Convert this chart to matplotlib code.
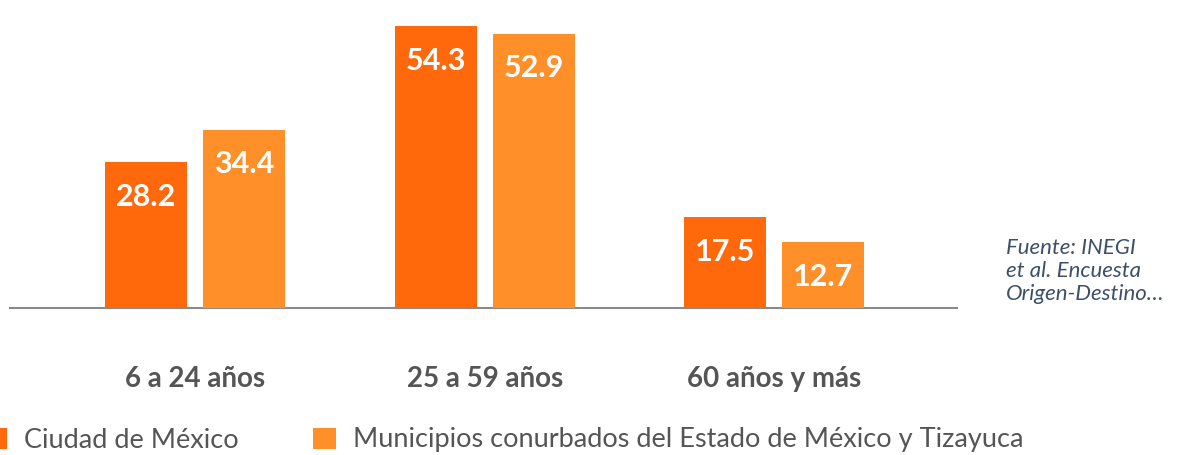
import matplotlib
matplotlib.use("Agg")
import matplotlib.pyplot as plt
import numpy as np

categories = ["6 a 24 años", "25 a 59 años", "60 años y más"]
series_names = ["Ciudad de México", "Municipios conurbados del Estado de México y Tizayuca"]
cdmx = [28.2, 54.3, 17.5]
municipios = [34.4, 52.9, 12.7]
source_note = "Fuente: INEGI\net al. Encuesta\nOrigen-Destino…"

C1 = "#FF690C"
C2 = "#FF8F28"
FONT = "Lato"

W, H = 1177, 455
fig = plt.figure(figsize=(W / 100, H / 100), dpi=100)
ax = fig.add_axes([10 / W, 1 - 308 / H, 947 / W, 308 / H])

x = np.arange(len(categories))
bw = 0.283
off = 0.169
b1 = ax.bar(x - off, cdmx, bw, color=C1, label=series_names[0], zorder=2)
b2 = ax.bar(x + off, municipios, bw, color=C2, label=series_names[1], zorder=2)

for bars, vals in ((b1, cdmx), (b2, municipios)):
    for r, v in zip(bars, vals):
        ax.annotate(f"{v:.1f}", (r.get_x() + r.get_width() / 2, r.get_height()),
                    xytext=(0, -25), textcoords="offset points",
                    ha="center", va="center", color="white",
                    fontsize=22, fontweight="bold", family=FONT)

ax.set_xlim(-0.638, 2.630)
ax.set_ylim(0, 59.4)
for s in ("top", "right", "left"):
    ax.spines[s].set_visible(False)
ax.spines["bottom"].set_color("#8a8a8a")
ax.spines["bottom"].set_linewidth(1.5)
ax.spines["bottom"].set_zorder(1)
ax.set_yticks([])
ax.set_xticks(x)
ax.set_xticklabels(categories, fontsize=20, fontweight="bold", color="#555555", family=FONT)
ax.tick_params(axis="x", length=0, pad=42)

fig.text(1006 / W, 1 - 238 / H, source_note, ha="left", va="top", fontsize=16,
         style="italic", color="#3d5068", family=FONT, linespacing=1.2)

leg = fig.legend(handles=[b1, b2], labels=series_names, loc="center left",
                 bbox_to_anchor=(-15 / W, 1 - 440 / H), ncol=2, frameon=False,
                 handlelength=0.82, handleheight=0.82, handletextpad=0.63,
                 columnspacing=2.75, borderpad=0, borderaxespad=0,
                 prop={"family": FONT, "size": 19.5})
for t in leg.get_texts():
    t.set_color("#555555")

fig.savefig("out.png", dpi=100)
